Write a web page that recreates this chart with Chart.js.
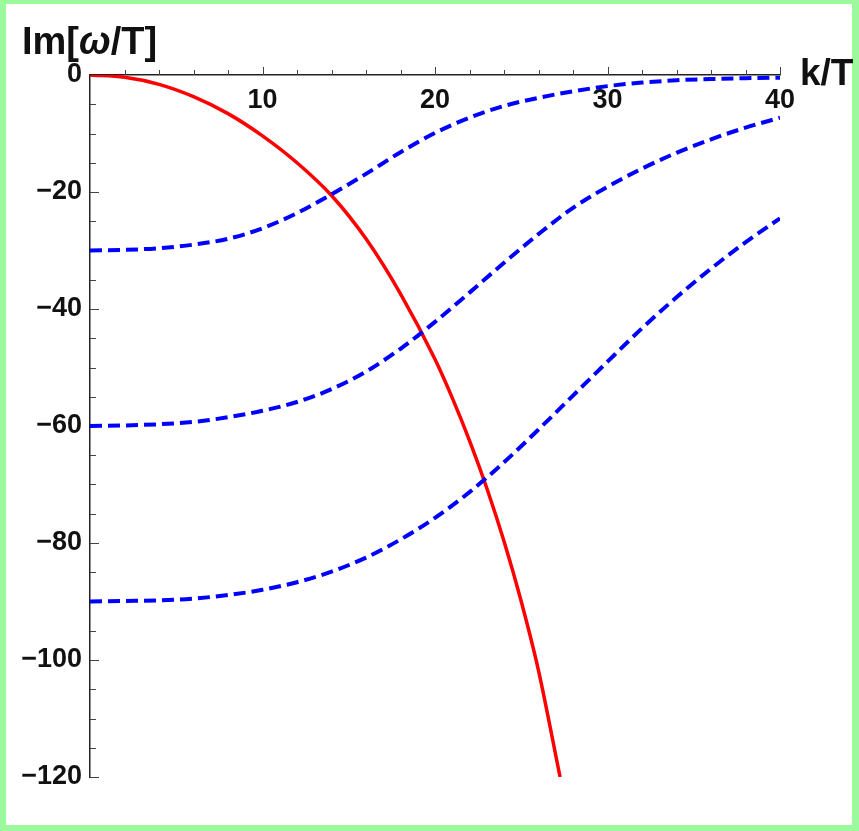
<!DOCTYPE html>
<html>
<head>
<meta charset="utf-8">
<script src="https://cdn.jsdelivr.net/npm/chart.js@4.4.1/dist/chart.umd.min.js"></script>
<style>
  html, body { margin: 0; padding: 0; background: #fff; }
  canvas { display: block; }
</style>
</head>
<body>
<canvas id="c" width="859" height="831"></canvas>
<script>
// Hydrodynamic (diffusive) mode: Im[omega/T] versus k/T
const kRed  = [0, 2, 4, 6, 8, 10, 12, 14, 16, 18, 20, 21, 22, 23, 24, 25, 26, 27.25];
const imRed = [0, -0.4, -1.6, -3.7, -6.6, -10.4, -15.0, -20.6, -28.0, -37.4, -48.6, -55.2, -62.5, -70.6, -79.7, -90.0, -101.8, -120];

// Non-hydrodynamic (gapped) modes
const kBlue   = [0, 2, 4, 6, 8, 10, 12, 14, 16, 18, 20, 22, 24, 26, 28, 30, 32, 34, 36, 38, 40];
const imBlue1 = [-30, -29.9, -29.6, -29.0, -28.0, -26.2, -23.6, -20.4, -16.9, -13.2, -9.9, -7.3, -5.3, -3.9, -2.8, -1.9, -1.3, -0.9, -0.7, -0.55, -0.45];
const imBlue2 = [-60, -59.9, -59.7, -59.3, -58.5, -57.4, -55.9, -53.7, -50.7, -46.8, -42.2, -37.2, -32.1, -27.2, -22.7, -19.1, -16.0, -13.3, -11.0, -9.0, -7.3];
const imBlue3 = [-90, -89.9, -89.8, -89.5, -88.9, -88.0, -86.7, -84.9, -82.5, -79.4, -75.7, -71.3, -66.2, -60.6, -54.8, -49.0, -43.3, -38.0, -33.1, -28.6, -24.5];

// Axis tick positions
const xMajorTicks = [10, 20, 30, 40];
const xMinorTicks = [2, 4, 6, 8, 12, 14, 16, 18, 22, 24, 26, 28, 32, 34, 36, 38];
const yMajorTicks = [-20, -40, -60, -80, -100, -120];
const yMinorTicks = [-5, -10, -15, -25, -30, -35, -45, -50, -55, -65, -70, -75, -85, -90, -95, -105, -110, -115];

const FONT = '"Liberation Sans", Arial, Helvetica, sans-serif';

function pts(ks, vs) { return ks.map((k, i) => ({ x: k, y: vs[i] })); }

const frame = {
  id: 'frame',
  beforeDraw(chart) {
    const { ctx, width, height } = chart;
    ctx.save();
    ctx.fillStyle = '#9bfa9b';
    ctx.fillRect(0, 0, width, height);
    ctx.fillStyle = '#ffffff';
    ctx.fillRect(6, 4, width - 13, height - 10);
    ctx.restore();
  }
};

const axisMarks = {
  id: 'axisMarks',
  beforeDatasetsDraw(chart) {
    const { ctx, chartArea, scales: { x, y } } = chart;
    const top = chartArea.top, left = chartArea.left;
    ctx.save();
    ctx.strokeStyle = '#444';
    ctx.lineWidth = 1;
    ctx.beginPath();
    xMajorTicks.forEach(v => { const p = Math.round(x.getPixelForValue(v)) + 0.5; ctx.moveTo(p, top); ctx.lineTo(p, top - 8); });
    xMinorTicks.forEach(v => { const p = Math.round(x.getPixelForValue(v)) + 0.5; ctx.moveTo(p, top); ctx.lineTo(p, top - 5); });
    yMajorTicks.forEach(v => { const p = Math.round(y.getPixelForValue(v)) + 0.5; ctx.moveTo(left, p); ctx.lineTo(left + 9, p); });
    yMinorTicks.forEach(v => { const p = Math.round(y.getPixelForValue(v)) + 0.5; ctx.moveTo(left, p); ctx.lineTo(left + 6, p); });
    ctx.stroke();
    ctx.restore();
  },
  afterDraw(chart) {
    const { ctx } = chart;
    ctx.save();
    ctx.fillStyle = '#111';
    ctx.textBaseline = 'alphabetic';
    ctx.textAlign = 'left';
    // vertical axis title
    let tx = 22;
    const by = 54;
    ctx.font = 'bold 38px ' + FONT;
    ctx.fillText('Im[', tx, by); tx += ctx.measureText('Im[').width;
    ctx.font = 'italic bold 38px ' + FONT;
    ctx.fillText('\u03C9', tx, by); tx += ctx.measureText('\u03C9').width;
    ctx.font = 'bold 38px ' + FONT;
    ctx.fillText('/T]', tx, by);
    // horizontal axis title
    ctx.font = 'bold 37px ' + FONT;
    ctx.fillText('k/T', 800, 85);
    ctx.restore();
  }
};

new Chart(document.getElementById('c'), {
  type: 'line',
  data: {
    datasets: [
      { data: pts(kRed, imRed), borderColor: '#ff0000', borderWidth: 3.5, order: 1 },
      { data: pts(kBlue, imBlue1), borderColor: '#0000ff', borderWidth: 4, borderDash: [12, 6], order: 0 },
      { data: pts(kBlue, imBlue2), borderColor: '#0000ff', borderWidth: 4, borderDash: [12, 6], order: 0 },
      { data: pts(kBlue, imBlue3), borderColor: '#0000ff', borderWidth: 4, borderDash: [12, 6], order: 0 }
    ]
  },
  options: {
    responsive: false,
    animation: false,
    devicePixelRatio: 1,
    elements: {
      point: { radius: 0, hoverRadius: 0 },
      line: { cubicInterpolationMode: 'monotone', fill: false, borderCapStyle: 'butt' }
    },
    layout: { padding: { left: 6, top: 75, right: 79, bottom: 54 } },
    plugins: { legend: { display: false }, tooltip: { enabled: false } },
    scales: {
      x: {
        type: 'linear',
        position: 'top',
        min: 0, max: 40,
        grid: { display: true, drawOnChartArea: false, drawTicks: false },
        border: { display: true, color: '#222', width: 1.5 },
        ticks: {
          stepSize: 10, mirror: true, padding: 9, maxRotation: 0, autoSkip: false,
          color: '#111', font: { family: FONT, size: 27, weight: 'bold' },
          callback: v => (v === 0 ? '' : String(v))
        },
        afterFit: s => { s.height = 0; }
      },
      y: {
        type: 'linear',
        position: 'left',
        min: -120, max: 0,
        grid: { display: true, drawOnChartArea: false, drawTicks: false },
        border: { display: true, color: '#222', width: 1.5 },
        ticks: {
          stepSize: 20, padding: 8, autoSkip: false,
          color: '#111', font: { family: FONT, size: 27, weight: 'bold' },
          callback: v => (v < 0 ? '\u2212' + Math.abs(v) : String(v))
        },
        afterFit: s => { s.width = 84; }
      }
    }
  },
  plugins: [frame, axisMarks]
});
</script>
</body>
</html>
